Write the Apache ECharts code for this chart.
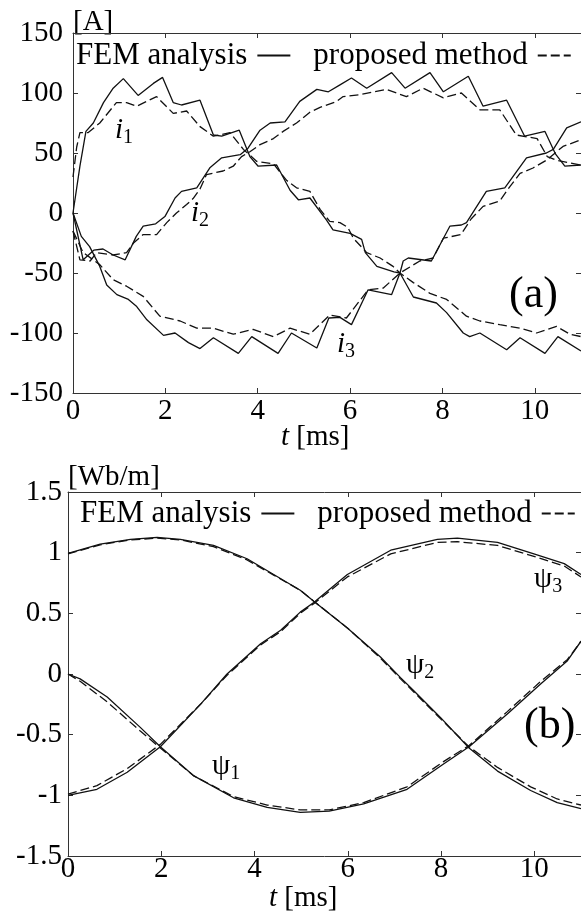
<!DOCTYPE html>
<html><head><meta charset="utf-8">
<script src="https://cdn.jsdelivr.net/npm/echarts@6/dist/echarts.min.js"></script>
<style>html,body{margin:0;padding:0;background:#fff}#c{width:581px;height:914px}</style>
</head><body><div id="c"></div>
<script>
// ---------- DATA ----------
// (a) phase currents [A], pairs of [t ms, value]
const femI1 = [[0,0],[0.15,39],[0.28,68],[0.44,75],[0.66,92],[0.87,104],[1.09,112],[1.41,98],[1.74,108],[1.94,113],[2.17,92],[2.35,90],[2.75,94],[3.04,65],[3.22,64],[3.60,69],[3.83,47],[4.01,39],[4.41,40],[4.70,19],[4.88,11],[5.13,12.5],[5.49,-6],[5.63,-14],[6.0,-17],[6.25,-22],[6.33,-33],[6.58,-44.5],[6.95,-49],[7.08,-50],[7.37,-70],[7.87,-75],[8.09,-83],[8.45,-100],[8.59,-103],[8.81,-100],[9.39,-114],[9.68,-104],[10.22,-117],[10.5,-103],[11,-115]];
const femI2 = [[0,0],[0.22,-39],[0.45,-31],[0.65,-30],[0.87,-35],[1.13,-39],[1.37,-19.5],[1.52,-11],[1.79,-9],[1.99,-3],[2.21,12.5],[2.35,18],[2.68,21],[2.97,38],[3.22,46],[3.62,48.6],[3.79,54],[4.05,69],[4.27,75],[4.59,76],[4.91,93],[5.28,103],[5.53,101],[5.79,107],[6.03,112.5],[6.36,104],[6.9,117],[7.19,104],[7.73,117],[8.02,101],[8.56,114],[8.88,89],[9.39,94],[9.78,64],[10.22,68],[10.45,49],[10.65,39],[11,40]];
const femI3 = [[0,0],[0.18,-19.5],[0.36,-28],[0.58,-44.5],[0.73,-60],[0.95,-68],[1.2,-72],[1.38,-78],[1.6,-89],[1.96,-102],[2.21,-100],[2.5,-108],[2.75,-113],[3.04,-104],[3.58,-117],[3.87,-103],[4.44,-117],[4.73,-100],[5.28,-112.5],[5.54,-87.5],[5.78,-87],[6.03,-93],[6.39,-64],[6.9,-68],[7.08,-50],[7.15,-40],[7.26,-37.5],[7.76,-40],[8.16,-11],[8.41,-10],[8.52,-8],[8.95,18],[9.35,21],[9.82,46],[10.25,50],[10.4,53],[10.69,71],[11,76]];
const propI1 = [[0,30],[0.08,55],[0.15,67],[0.33,67],[0.58,75],[0.94,92],[1.16,92],[1.38,89],[1.81,97],[2.17,83],[2.46,85],[2.75,72],[3.04,64],[3.4,67],[3.69,53],[3.98,43],[4.34,41],[4.63,27],[4.84,21],[5.13,18],[5.35,3],[5.56,-7],[5.78,-8],[5.95,-12],[6.07,-21],[6.36,-33],[6.65,-37.5],[6.93,-44.5],[7.08,-50],[7.37,-58],[7.73,-67],[8.09,-72],[8.52,-86],[8.81,-90],[9.24,-93],[9.68,-96],[10.04,-100],[10.47,-94.5],[10.76,-101],[11,-103]];
const propI2 = [[0,-15],[0.15,-39],[0.37,-40],[0.51,-33],[0.87,-35],[1.16,-33],[1.31,-25],[1.52,-18],[1.81,-18],[2.03,-8],[2.24,0],[2.46,7],[2.6,12],[2.75,20],[2.89,32],[3.25,35],[3.47,39],[3.65,47],[3.83,51],[4.05,57],[4.34,62],[4.55,68],[4.84,75],[5.13,84],[5.35,88],[5.71,93],[5.85,97],[6.21,98.6],[6.79,103],[7.22,97],[7.58,104],[8.02,96],[8.41,100],[8.81,86],[9.24,86],[9.6,65],[10.05,62],[10.27,47],[10.47,44],[11,40]];
const propI3 = [[0,-15],[0.22,-33],[0.58,-43],[0.87,-55.6],[1.16,-61],[1.52,-69.5],[1.88,-86],[2.32,-90],[2.68,-96],[3.04,-96],[3.47,-101],[3.9,-97],[4.34,-103],[4.7,-96],[5.13,-101],[5.56,-85],[5.92,-87.5],[6.39,-64],[6.72,-62.5],[7.08,-50],[7.51,-40],[7.8,-37.5],[8.02,-21],[8.4,-18],[8.62,-5],[8.88,5.5],[9.24,10],[9.46,22],[9.68,33],[9.96,37.5],[10.25,44],[10.61,55.5],[11,61]];

// (b) flux linkages [Wb/m]
const femP1 = [[0,0],[0.26,-0.04],[0.84,-0.19],[1.55,-0.44],[1.98,-0.6],[2.7,-0.84],[3.55,-1.02],[4.27,-1.1],[4.98,-1.14],[5.6,-1.13],[6.34,-1.07],[7.27,-0.95],[8.06,-0.74],[8.6,-0.6],[9.42,-0.33],[10.14,-0.08],[10.71,0.11],[11,0.27]];
const femP2 = [[0,0.994],[0.69,1.07],[1.34,1.11],[1.91,1.126],[2.41,1.11],[3.12,1.06],[3.84,0.95],[4.41,0.82],[4.98,0.69],[5.27,0.6],[5.99,0.38],[6.7,0.14],[7.13,-0.03],[7.42,-0.14],[7.99,-0.36],[8.6,-0.61],[9.21,-0.8],[9.92,-0.96],[10.49,-1.06],[11,-1.11]];
const femP3 = [[0,-1.0],[0.62,-0.95],[1.27,-0.81],[1.98,-0.6],[2.84,-0.25],[3.41,0],[4.13,0.25],[4.56,0.36],[4.98,0.51],[5.27,0.59],[5.99,0.82],[6.92,1.02],[7.92,1.11],[8.35,1.12],[9.21,1.085],[9.99,0.99],[10.64,0.91],[11,0.82]];
const propP1 = [[0,0],[0.26,-0.06],[0.84,-0.23],[1.55,-0.47],[1.98,-0.61],[2.7,-0.84],[3.55,-1.01],[4.27,-1.08],[4.98,-1.12],[5.6,-1.12],[6.34,-1.06],[7.27,-0.93],[8.06,-0.72],[8.6,-0.59],[9.42,-0.31],[10.14,-0.06],[10.71,0.12],[11,0.27]];
const propP2 = [[0,0.99],[0.69,1.065],[1.34,1.105],[1.91,1.12],[2.41,1.105],[3.12,1.05],[3.84,0.94],[4.41,0.815],[4.98,0.69],[5.27,0.6],[5.99,0.38],[6.7,0.13],[7.13,-0.04],[7.42,-0.15],[7.99,-0.37],[8.6,-0.6],[9.21,-0.77],[9.92,-0.93],[10.49,-1.03],[11,-1.08]];
const propP3 = [[0,-0.99],[0.62,-0.92],[1.27,-0.78],[1.98,-0.58],[2.84,-0.25],[3.41,-0.01],[4.13,0.24],[4.56,0.35],[4.98,0.5],[5.27,0.58],[5.99,0.8],[6.92,0.99],[7.92,1.085],[8.35,1.09],[9.21,1.06],[9.99,0.97],[10.64,0.89],[11,0.8]];

const legendNames = ['FEM analysis', 'proposed method'];
const xUnit = '[ms]';
const unitA = '[A]';
const unitB = '[Wb/m]';

// ---------- CHART ----------
const FONT = "'Liberation Serif','Times New Roman',serif";
const AX = '#333';
const chart = echarts.init(document.getElementById('c'), null, {renderer: 'canvas'});

function xAx(grid, pos, margin) {
  return {
    gridIndex: grid, type: 'value', position: pos, min: 0, max: 11, interval: 2,
    axisLine: {show: true, onZero: false, lineStyle: {color: AX, width: 1}},
    axisTick: {show: true, inside: true, length: 5, lineStyle: {color: AX}},
    axisLabel: {show: pos === 'bottom', showMaxLabel: false, fontSize: 29, fontFamily: FONT, color: '#000', margin: margin},
    splitLine: {show: false}
  };
}
function yAx(grid, pos, min, max, interval, name, nameGap, margin) {
  return {
    gridIndex: grid, type: 'value', position: pos, min: min, max: max, interval: interval,
    name: pos === 'left' ? name : '', nameLocation: 'end', nameGap: nameGap,
    nameTextStyle: {fontSize: 29, fontFamily: FONT, color: '#000', align: 'left', verticalAlign: 'middle'},
    axisLine: {show: pos === 'left', onZero: false, lineStyle: {color: AX, width: 1}},
    axisTick: {show: true, inside: true, length: 5, lineStyle: {color: AX}},
    axisLabel: {show: pos === 'left', fontSize: 29, fontFamily: FONT, color: '#000', margin: margin},
    splitLine: {show: false}
  };
}
function ser(name, data, xi, yi, dashed) {
  return {
    name: name, type: 'line', data: data, xAxisIndex: xi, yAxisIndex: yi,
    symbol: 'none', smooth: false, silent: true, color: '#111',
    lineStyle: {color: '#111', width: 1.3, type: dashed ? [9, 4] : 'solid'}
  };
}
function sub(x, y, main, s, italic) {
  return {
    type: 'text', left: x, top: y, silent: true,
    style: {
      text: '{a|' + main + '}{b|' + s + '}',
      rich: {
        a: {fontSize: 29, fontFamily: FONT, fontStyle: italic ? 'italic' : 'normal', fill: '#000', verticalAlign: 'bottom', padding: [0, 0, 3, 0]},
        b: {fontSize: 20, fontFamily: FONT, fill: '#000', verticalAlign: 'bottom'}
      }
    }
  };
}
function plain(x, y, txt, size) {
  return {type: 'text', left: x, top: y, silent: true,
    style: {text: txt, fontSize: size, fontFamily: FONT, fill: '#000'}};
}
function tLabel(x, y) {
  return {type: 'text', left: x, top: y, silent: true,
    style: {text: '{i|t} ' + xUnit, fontSize: 29, fontFamily: FONT, fill: '#000',
      rich: {i: {fontSize: 29, fontFamily: FONT, fontStyle: 'italic', fill: '#000'}}}};
}
function leg(left, top) {
  return {
    data: legendNames, left: left, top: top, width: 540, orient: 'horizontal', align: 'right',
    itemWidth: 33, itemHeight: 14, itemGap: 22, selectedMode: false, padding: 0,
    itemStyle: {color: 'rgba(0,0,0,0)', borderColor: 'rgba(0,0,0,0)', borderWidth: 0},
    textStyle: {fontSize: 31, fontFamily: FONT, color: '#000', padding: [0, 5, 0, 0]}
  };
}

const option = {
  animation: false,
  backgroundColor: '#fff',
  grid: [
    {left: 73, top: 33, right: 0, height: 360},
    {left: 68, top: 492, right: 0, height: 364}
  ],
  xAxis: [xAx(0, 'bottom', 4), xAx(0, 'top', 4), xAx(1, 'bottom', -1), xAx(1, 'top', 4)],
  yAxis: [
    yAx(0, 'left', -150, 150, 50, unitA, 11, 10),
    yAx(0, 'right', -150, 150, 50, '', 0, 0),
    yAx(1, 'left', -1.5, 1.5, 0.5, unitB, 15, 6),
    yAx(1, 'right', -1.5, 1.5, 0.5, '', 0, 0)
  ],
  legend: [leg(76, 40), leg(80, 498)],
  series: [
    ser(legendNames[0], femI1, 0, 0, false),
    ser(legendNames[0], femI2, 0, 0, false),
    ser(legendNames[0], femI3, 0, 0, false),
    ser(legendNames[1], propI1, 0, 0, true),
    ser(legendNames[1], propI2, 0, 0, true),
    ser(legendNames[1], propI3, 0, 0, true),
    ser(legendNames[0], femP1, 2, 2, false),
    ser(legendNames[0], femP2, 2, 2, false),
    ser(legendNames[0], femP3, 2, 2, false),
    ser(legendNames[1], propP1, 2, 2, true),
    ser(legendNames[1], propP2, 2, 2, true),
    ser(legendNames[1], propP3, 2, 2, true)
  ],
  graphic: [
    sub(115, 116, 'i', '1', true),
    sub(191, 199, 'i', '2', true),
    sub(337, 330, 'i', '3', true),
    sub(212, 752, 'ψ', '1', false),
    sub(406, 651, 'ψ', '2', false),
    sub(534, 565, 'ψ', '3', false),
    plain(509, 273, '(a)', 44),
    plain(524, 704, '(b)', 44),
    tLabel(281, 423),
    tLabel(269, 884)
  ]
};
chart.setOption(option);
</script></body></html>
